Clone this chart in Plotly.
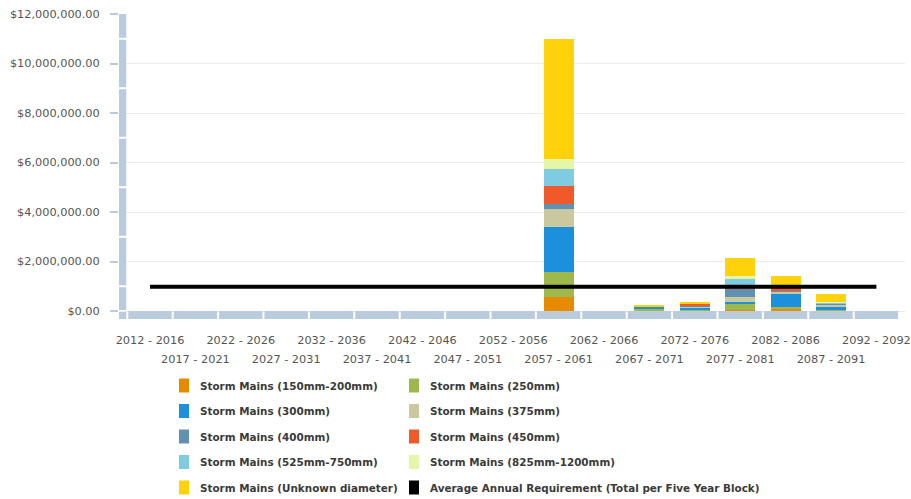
import plotly.graph_objects as go

# Five-year planning blocks
periods = [
    "2012 - 2016", "2017 - 2021", "2022 - 2026", "2027 - 2031", "2032 - 2036",
    "2037 - 2041", "2042 - 2046", "2047 - 2051", "2052 - 2056", "2057 - 2061",
    "2062 - 2066", "2067 - 2071", "2072 - 2076", "2077 - 2081", "2082 - 2086",
    "2087 - 2091", "2092 - 2092",
]

# Renewal cost per block (dollars) for each storm main class
mains_150_200 = [0, 0, 0, 0, 0, 0, 0, 0, 0, 550000, 0, 30000, 30000, 40000, 70000, 20000, 0]
mains_250 = [0, 0, 0, 0, 0, 0, 0, 0, 0, 1030000, 0, 80000, 20000, 270000, 105000, 30000, 0]
mains_300 = [0, 0, 0, 0, 0, 0, 0, 0, 0, 1800000, 0, 60000, 80000, 70000, 500000, 100000, 0]
mains_375 = [0, 0, 0, 0, 0, 0, 0, 0, 0, 740000, 0, 10000, 40000, 190000, 130000, 120000, 0]
mains_400 = [0, 0, 0, 0, 0, 0, 0, 0, 0, 220000, 0, 5000, 40000, 320000, 20000, 30000, 0]
mains_450 = [0, 0, 0, 0, 0, 0, 0, 0, 0, 720000, 0, 0, 80000, 60000, 140000, 0, 0]
mains_525_750 = [0, 0, 0, 0, 0, 0, 0, 0, 0, 680000, 0, 10000, 20000, 340000, 60000, 60000, 0]
mains_825_1200 = [0, 0, 0, 0, 0, 0, 0, 0, 0, 390000, 0, 5000, 10000, 130000, 20000, 10000, 0]
mains_unknown = [0, 0, 0, 0, 0, 0, 0, 0, 0, 4850000, 0, 20000, 40000, 710000, 380000, 330000, 0]

# Average annual requirement (total per five-year block)
avg_requirement = 980000

y_ticks = [0, 2000000, 4000000, 6000000, 8000000, 10000000, 12000000]

series = [
    ("Storm Mains (150mm-200mm)", "#E68A00", mains_150_200),
    ("Storm Mains (250mm)", "#9FB84B", mains_250),
    ("Storm Mains (300mm)", "#1C90DB", mains_300),
    ("Storm Mains (375mm)", "#C9C89E", mains_375),
    ("Storm Mains (400mm)", "#6190B0", mains_400),
    ("Storm Mains (450mm)", "#F05A2A", mains_450),
    ("Storm Mains (525mm-750mm)", "#7FCBE1", mains_525_750),
    ("Storm Mains (825mm-1200mm)", "#E6F6A9", mains_825_1200),
    ("Storm Mains (Unknown diameter)", "#FFD20C", mains_unknown),
]
avg_name = "Average Annual Requirement (Total per Five Year Block)"

# ---- page geometry (pixels) ----
W, H = 911, 499
L, R, T, B = 119, 6, 14, 180
plot_w = W - L - R
plot_h = H - T - B
cat_px = 45.4              # width of one category slot
first_center_px = 150      # pixel x of the first category centre
zero_px = 311              # pixel y of $0
band_px = 319 - zero_px    # thickness of the axis band
px_per_dollar = (zero_px - T) / y_ticks[-1]

x_lo = (L - first_center_px) / cat_px
x_hi = (W - R - first_center_px) / cat_px
y_lo = -band_px / px_per_dollar
y_hi = y_ticks[-1]

band_color = "#B9CBDC"
font_family = "DejaVu Sans"

fig = go.Figure()

for name, color, vals in series:
    fig.add_trace(go.Bar(
        x=periods, y=vals, name=name,
        marker=dict(color=color, line=dict(width=0)),
        showlegend=False,
    ))

fig.add_trace(go.Scatter(
    x=periods, y=[avg_requirement] * len(periods), name=avg_name,
    xaxis="x2", mode="lines",
    line=dict(color="#000000", width=4),
    showlegend=False,
))

shapes = []
# segmented band along the category axis
g = 1.0 / cat_px
for i in range(len(periods)):
    shapes.append(dict(type="rect", xref="x", yref="y",
                       x0=i - 0.5 + g, x1=i + 0.5 - g, y0=y_lo, y1=0,
                       fillcolor=band_color, line=dict(width=0)))

# segmented band along the value axis (segments centred on ticks)
edges = [y_lo, 0]
for a, b in zip(y_ticks[:-1], y_ticks[1:]):
    edges.append((a + b) / 2)
edges.append(y_hi)
gy = 1.0 / px_per_dollar
band_x1 = (first_center_px - cat_px / 2 - 1 - L) / plot_w
for k, (a, b) in enumerate(zip(edges[:-1], edges[1:])):
    shapes.append(dict(type="rect", xref="paper", yref="y",
                       x0=0, x1=band_x1,
                       y0=a + (gy if k > 0 else 0),
                       y1=b - (gy if k < len(edges) - 2 else 0),
                       fillcolor=band_color, line=dict(width=0)))

# legend drawn as two columns of swatches + labels
annotations = []
legend_items = [(n, c) for n, c, _ in series] + [(avg_name, "#000000")]
col_px = [179, 409]
row0_px, row_step = 385.5, 25.5
sw_w, sw_h = 10, 14
for idx, (name, color) in enumerate(legend_items):
    col, row = idx % 2, idx // 2
    cx = col_px[col]
    cy = row0_px + row * row_step
    shapes.append(dict(type="rect", xref="paper", yref="paper",
                       x0=(cx - L) / plot_w, x1=(cx + sw_w - L) / plot_w,
                       y0=(T + plot_h - (cy + sw_h / 2)) / plot_h,
                       y1=(T + plot_h - (cy - sw_h / 2)) / plot_h,
                       fillcolor=color, line=dict(width=0)))
    annotations.append(dict(xref="paper", yref="paper",
                            x=(cx + 19 - L) / plot_w,
                            y=(T + plot_h - cy) / plot_h,
                            xanchor="left", yanchor="middle", showarrow=False,
                            text=name,
                            font=dict(family=font_family, size=10.4,
                                      color="#3a3a3a", weight="bold")))

tick_font = dict(family=font_family, size=11.3, color="#555555")

fig.update_layout(
    width=W, height=H,
    margin=dict(l=L, r=R, t=T, b=B, pad=0, autoexpand=False),
    paper_bgcolor="white", plot_bgcolor="white",
    barmode="stack", bargap=0.34,
    showlegend=False,
    shapes=shapes,
    annotations=annotations,
    xaxis=dict(type="category", range=[x_lo, x_hi], automargin=False,
               tickmode="array", tickvals=periods[0::2],
               tickangle=0, showgrid=False, zeroline=False, showline=False,
               ticks="", tickfont=tick_font, ticklabelstandoff=13,
               ticklabeloverflow="allow"),
    xaxis2=dict(type="category", overlaying="x", anchor="y", side="bottom",
                range=[x_lo, x_hi], automargin=False,
                categoryorder="array", categoryarray=periods,
                tickmode="array", tickvals=periods[1::2],
                tickangle=0, showgrid=False, zeroline=False, showline=False,
                ticks="", tickfont=tick_font, ticklabelstandoff=32,
                ticklabeloverflow="allow"),
    yaxis=dict(range=[y_lo, y_hi], tickmode="array", tickvals=y_ticks,
               tickformat="$,.2f", automargin=False,
               showgrid=True, gridcolor="#EBEBEB", gridwidth=1,
               zeroline=False, showline=False,
               ticks="outside", ticklen=8, tickwidth=1.5, tickcolor=band_color,
               tickfont=tick_font, ticklabelstandoff=8),
    font=dict(family=font_family),
)

fig.write_html("out.html")
